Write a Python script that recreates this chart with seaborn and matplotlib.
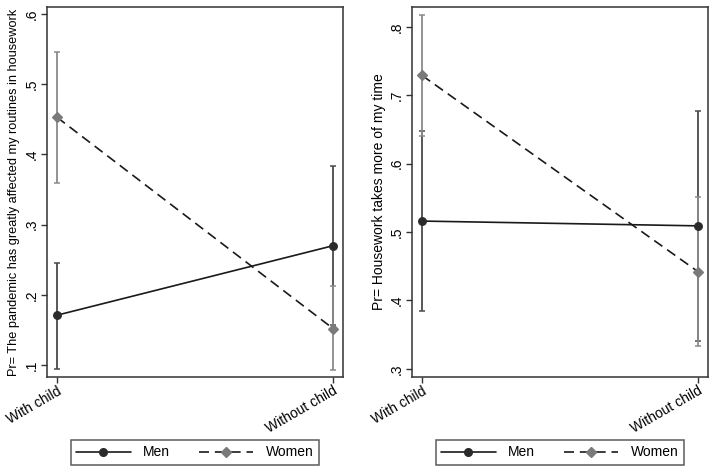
import matplotlib
matplotlib.use("Agg")
import matplotlib.pyplot as plt
import seaborn as sns
import pandas as pd
import numpy as np
from matplotlib.lines import Line2D
from matplotlib.ticker import FuncFormatter

sns.set_theme(style="white")
plt.rcParams['font.family'] = ['Liberation Sans', 'DejaVu Sans']
plt.rcParams['text.color'] = 'black'
plt.rcParams['axes.labelcolor'] = 'black'
plt.rcParams['xtick.color'] = 'black'
plt.rcParams['ytick.color'] = 'black'

categories = ["With child", "Without child"]
groups = ["Men", "Women"]

# Panel 1: routines in housework
p1_men = [0.171, 0.270]
p1_men_lo = [0.095, 0.157]
p1_men_hi = [0.246, 0.383]
p1_women = [0.453, 0.152]
p1_women_lo = [0.360, 0.093]
p1_women_hi = [0.546, 0.212]

# Panel 2: housework takes more time
p2_men = [0.516, 0.509]
p2_men_lo = [0.384, 0.341]
p2_men_hi = [0.647, 0.677]
p2_women = [0.729, 0.442]
p2_women_lo = [0.641, 0.333]
p2_women_hi = [0.818, 0.551]

panels = [
    dict(men=p1_men, men_lo=p1_men_lo, men_hi=p1_men_hi,
         women=p1_women, women_lo=p1_women_lo, women_hi=p1_women_hi,
         ylabel="Pr= The pandemic has greatly affected my routines in housework",
         ylabel_fs=9.2,
         yticks=[0.1, 0.2, 0.3, 0.4, 0.5, 0.6], ylim=(0.083, 0.61)),
    dict(men=p2_men, men_lo=p2_men_lo, men_hi=p2_men_hi,
         women=p2_women, women_lo=p2_women_lo, women_hi=p2_women_hi,
         ylabel="Pr= Housework takes more of my time",
         ylabel_fs=10,
         yticks=[0.3, 0.4, 0.5, 0.6, 0.7, 0.8], ylim=(0.288, 0.829)),
]

W, H = 709, 466
fig = plt.figure(figsize=(W / 100, H / 100), dpi=100)
rects = [(47, 343), (412, 708)]
top_px, bot_px = 7, 377

men_col = "#2b2b2b"
women_col = "#7a7a7a"
men_err = "#4a4a4a"
women_err = "#8a8a8a"
FS = 10

def fmt(v, pos):
    s = f"{v:.1f}"
    return s[1:] if s.startswith("0") else s

for (l, r), p in zip(rects, panels):
    ax = fig.add_axes([l / W, 1 - bot_px / H, (r - l) / W, (bot_px - top_px) / H])
    df = pd.DataFrame({
        "cat": categories * 2,
        "group": [groups[0]] * 2 + [groups[1]] * 2,
        "val": p["men"] + p["women"],
    })
    xs = np.arange(len(categories))
    ax.errorbar(xs, p["men"],
                yerr=[np.array(p["men"]) - np.array(p["men_lo"]),
                      np.array(p["men_hi"]) - np.array(p["men"])],
                fmt="none", ecolor=men_err, elinewidth=1.3, capsize=2.3, capthick=1.1, zorder=1)
    ax.errorbar(xs, p["women"],
                yerr=[np.array(p["women"]) - np.array(p["women_lo"]),
                      np.array(p["women_hi"]) - np.array(p["women"])],
                fmt="none", ecolor=women_err, elinewidth=1.3, capsize=2.3, capthick=1.1, zorder=1)
    sns.pointplot(data=df, x="cat", y="val", hue="group", order=categories,
                  hue_order=groups, palette=[men_col, women_col],
                  markers=["o", "D"], linestyles=["-", "--"], errorbar=None,
                  ax=ax, legend=False, markersize=5.5, linewidth=1.2)
    lines = [ln for ln in ax.lines if len(ln.get_xdata()) == 2 and ln.get_marker() in ("o", "D")]
    for ln in lines:
        ln.set_color("#1a1a1a")
        if ln.get_marker() == "o":
            ln.set_markerfacecolor(men_col); ln.set_markeredgecolor(men_col)
        else:
            ln.set_markerfacecolor(women_col); ln.set_markeredgecolor(women_col)
            ln.set_dashes([6, 3.5])
    ax.set_xlim(-0.036, 1.036)
    ax.set_ylim(*p["ylim"])
    ax.set_yticks(p["yticks"])
    ax.yaxis.set_major_formatter(FuncFormatter(fmt))
    ax.set_xlabel("")
    ax.set_ylabel(p["ylabel"], fontsize=p["ylabel_fs"], labelpad=3)
    ax.tick_params(axis="y", labelrotation=90, labelsize=FS, length=4, width=1, color="#333333",
                   left=True, pad=2)
    for t in ax.get_yticklabels():
        t.set_verticalalignment("center")
    ax.tick_params(axis="x", labelsize=FS, length=4, width=1, color="#333333", bottom=True, pad=1)
    ax.set_xticks(xs)
    ax.set_xticklabels(categories, rotation=30, ha="right", rotation_mode="anchor")
    for sp in ax.spines.values():
        sp.set_color("#333333"); sp.set_linewidth(1.1); sp.set_visible(True)
    ax.grid(False)
    handles = [
        Line2D([0], [0], color="#1a1a1a", lw=1.2, marker="o", markersize=5.5,
               markerfacecolor=men_col, markeredgecolor=men_col),
        Line2D([0], [0], color="#1a1a1a", lw=1.2, ls=(0, (6, 3.5)), marker="D", markersize=5,
               markerfacecolor=women_col, markeredgecolor=women_col),
    ]
    cx = ((l + r) / 2) / W
    leg = ax.legend(handles, groups, loc="lower center", bbox_to_anchor=(cx, 1 - 465 / H),
                    bbox_transform=fig.transFigure, ncol=2, frameon=True, fancybox=False,
                    fontsize=FS, handlelength=3.9, columnspacing=2.1, borderpad=0.4,
                    handletextpad=0.9, borderaxespad=0)
    leg.get_frame().set_edgecolor("#333333")
    leg.get_frame().set_linewidth(1.1)

fig.savefig("out.png", dpi=100)
